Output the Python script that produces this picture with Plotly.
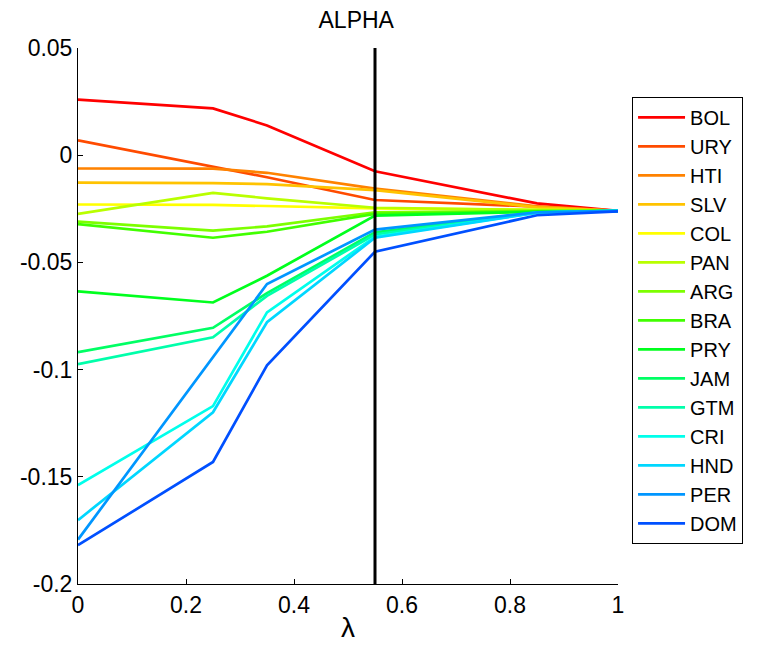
import plotly.graph_objects as go

lam = [0, 0.25, 0.35, 0.55, 0.85, 1.0]

countries = ["BOL", "URY", "HTI", "SLV", "COL", "PAN", "ARG", "BRA",
             "PRY", "JAM", "GTM", "CRI", "HND", "PER", "DOM"]

BOL = [0.0259, 0.0218, 0.0139, -0.0075, -0.0225, -0.0260]
URY = [0.0069, -0.0053, -0.0103, -0.0209, -0.0240, -0.0260]
HTI = [-0.0062, -0.0063, -0.0082, -0.0156, -0.0238, -0.0260]
SLV = [-0.0128, -0.0130, -0.0135, -0.0163, -0.0243, -0.0260]
COL = [-0.0230, -0.0232, -0.0237, -0.0248, -0.0255, -0.0260]
PAN = [-0.0274, -0.0176, -0.0201, -0.0245, -0.0255, -0.0260]
ARG = [-0.0310, -0.0352, -0.0332, -0.0266, -0.0260, -0.0260]
BRA = [-0.0321, -0.0385, -0.0357, -0.0274, -0.0262, -0.0260]
PRY = [-0.0635, -0.0687, -0.0562, -0.0282, -0.0264, -0.0260]
JAM = [-0.0919, -0.0805, -0.0643, -0.0360, -0.0266, -0.0260]
GTM = [-0.0975, -0.0849, -0.0656, -0.0370, -0.0267, -0.0260]
CRI = [-0.1539, -0.1170, -0.0733, -0.0380, -0.0268, -0.0260]
HND = [-0.1702, -0.1199, -0.0779, -0.0385, -0.0268, -0.0260]
PER = [-0.1793, -0.0939, -0.0601, -0.0347, -0.0266, -0.0260]
DOM = [-0.1819, -0.1431, -0.0980, -0.0450, -0.0280, -0.0262]

series = [BOL, URY, HTI, SLV, COL, PAN, ARG, BRA, PRY, JAM, GTM, CRI, HND, PER, DOM]

colors = ["rgb(255,0,0)", "rgb(255,75,0)", "rgb(255,130,0)", "rgb(255,195,0)",
          "rgb(255,255,0)", "rgb(185,255,0)", "rgb(125,255,0)", "rgb(65,255,0)",
          "rgb(0,255,30)", "rgb(0,255,100)", "rgb(0,255,170)", "rgb(0,255,235)",
          "rgb(0,215,255)", "rgb(0,150,255)", "rgb(0,80,255)"]

vline_x = 0.55

fig = go.Figure()
for name, vals, col in zip(countries, series, colors):
    fig.add_trace(go.Scatter(x=lam, y=vals, mode="lines", name=name,
                             line=dict(color=col, width=2.7)))

fig.add_shape(type="line", x0=vline_x, x1=vline_x, y0=0, y1=1, xref="x", yref="paper",
              line=dict(color="black", width=3))

font = dict(family="Liberation Sans, Arial, sans-serif", size=23, color="black")

fig.update_layout(
    width=757, height=646,
    margin=dict(l=70, r=147, t=40, b=70, autoexpand=False),
    paper_bgcolor="white", plot_bgcolor="white",
    font=font,
    title=dict(text="ALPHA", x=0.46, xanchor="center", y=0.981, yanchor="middle",
               font=dict(size=23)),
    showlegend=True,
    legend=dict(x=1.026, xanchor="left", y=0.909, yanchor="top",
                bordercolor="black", borderwidth=1, bgcolor="white",
                font=dict(size=20), tracegroupgap=0, itemwidth=47),
    xaxis=dict(range=[0, 1], tickvals=[0, 0.2, 0.4, 0.6, 0.8, 1],
               ticktext=["0", "0.2", "0.4", "0.6", "0.8", "1"],
               ticks="inside", ticklen=5, tickcolor="black",
               showline=True, linecolor="black", linewidth=1,
               showgrid=False, zeroline=False, mirror=False,
               title=dict(text="λ", standoff=0)),
    yaxis=dict(range=[-0.2, 0.05], tickvals=[-0.2, -0.15, -0.1, -0.05, 0, 0.05],
               ticktext=["-0.2", "-0.15", "-0.1", "-0.05", "0", "0.05"],
               ticks="inside", ticklen=5, tickcolor="black",
               showline=True, linecolor="black", linewidth=1,
               showgrid=False, zeroline=False, mirror=False),
)

fig.write_html("out.html")
